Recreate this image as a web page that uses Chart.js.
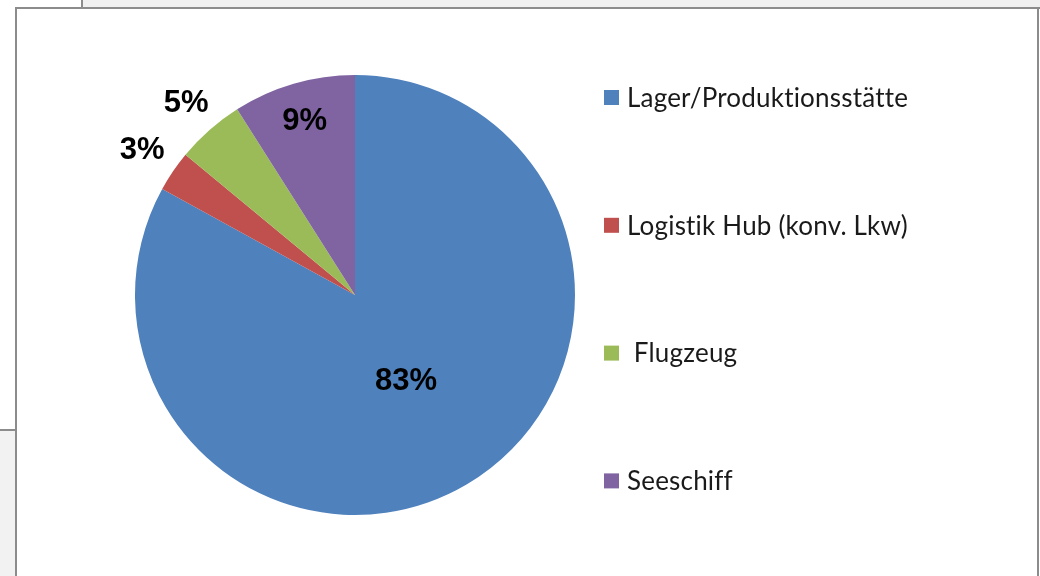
<!DOCTYPE html>
<html>
<head>
<meta charset="utf-8">
<script src="https://cdn.jsdelivr.net/npm/chart.js@4.4.1/dist/chart.umd.min.js"></script>
<style>
  html, body { margin: 0; padding: 0; background: #fff; }
  #wrap { position: relative; width: 1040px; height: 576px; overflow: hidden; background: #fff; }
  .frame { position: absolute; }
  canvas { position: absolute; left: 0; top: 0; }
</style>
</head>
<body>
<div id="wrap">
  <div class="frame" style="left:83px;top:0;width:957px;height:7px;background:#f0f0f0"></div>
  <div class="frame" style="left:81px;top:0;width:2px;height:9px;background:#8c8c8c"></div>
  <div class="frame" style="left:15px;top:7px;width:1025px;height:2px;background:#8c8c8c"></div>
  <div class="frame" style="left:1037px;top:7px;width:2px;height:569px;background:#8c8c8c"></div>
  <div class="frame" style="left:0;top:431px;width:15px;height:145px;background:#f2f2f2"></div>
  <div class="frame" style="left:0;top:429px;width:15px;height:2px;background:#8c8c8c"></div>
  <div class="frame" style="left:15px;top:7px;width:2px;height:569px;background:#8c8c8c"></div>
  <canvas id="chart" width="1040" height="576"></canvas>
</div>
<script>
const categories = ["Lager/Produktionsstätte", "Logistik Hub (konv. Lkw)", " Flugzeug", "Seeschiff"];
const shares = [83, 3, 5, 9];
const sliceColors = ["#4f81bd", "#c0504d", "#9bbb59", "#8064a2"];

// percent labels, inside for the big slices, outside for the small ones
const sliceLabels = {
	id: "sliceLabels",
	afterDatasetsDraw(chart, args, opts) {
		const ctx = chart.ctx;
		const meta = chart.getDatasetMeta(0);
		ctx.save();
		ctx.font = opts.font;
		ctx.fillStyle = "#000";
		ctx.textAlign = "center";
		ctx.textBaseline = "middle";
		meta.data.forEach((arc, i) => {
			const p = arc.getProps(["x", "y", "startAngle", "endAngle", "outerRadius"]);
			const mid = (p.startAngle + p.endAngle) / 2;
			const r = p.outerRadius * opts.radial[i];
			ctx.fillText(shares[i] + "%", p.x + Math.cos(mid) * r, p.y + Math.sin(mid) * r);
		});
		ctx.restore();
	},
};

// excel-style legend on the right, widely spaced
const sideLegend = {
	id: "sideLegend",
	afterDraw(chart, args, opts) {
		const ctx = chart.ctx;
		ctx.save();
		ctx.font = opts.font;
		ctx.letterSpacing = "0.2px"; // also keeps Lato from using ti/ff ligatures
		ctx.textAlign = "left";
		ctx.textBaseline = "middle";
		chart.data.labels.forEach((label, i) => {
			const cy = opts.top + i * opts.step;
			ctx.fillStyle = sliceColors[i];
			ctx.fillRect(opts.x, cy - opts.box / 2, opts.box, opts.box);
			ctx.fillStyle = "#1a1a1a";
			ctx.fillText(label, opts.x + opts.box + 8, cy + 1);
		});
		ctx.restore();
	},
};

new Chart(document.getElementById("chart").getContext("2d"), {
	type: "pie",
	data: {
		labels: categories,
		datasets: [
			{
				data: shares,
				backgroundColor: sliceColors,
				borderWidth: 0,
			},
		],
	},
	options: {
		responsive: false,
		animation: false,
		layout: {
			padding: { left: 135, top: 75, right: 465, bottom: 61 },
		},
		plugins: {
			legend: { display: false },
			tooltip: { enabled: false },
			sliceLabels: {
				font: 'bold 31px "Liberation Sans", Arial, sans-serif',
				radial: [0.455, 1.17, 1.16, 0.82],
			},
			sideLegend: {
				font: '26px Lato, "Open Sans", sans-serif',
				x: 604,
				top: 97.5,
				step: 127.8,
				box: 15,
			},
		},
	},
	plugins: [sliceLabels, sideLegend],
});
</script>
</body>
</html>
